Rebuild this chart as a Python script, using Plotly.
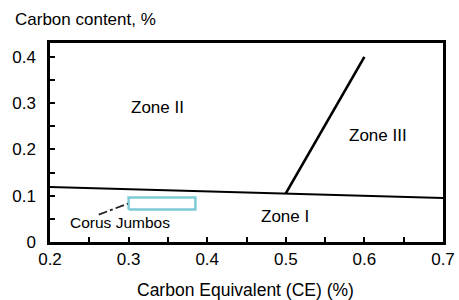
import plotly.graph_objects as go

# Data
boundary_x = [0.2, 0.7]
boundary_y = [0.119, 0.095]
zone3_x = [0.5, 0.6]
zone3_y = [0.105, 0.40]
corus_rect_x = [0.3, 0.385, 0.385, 0.3, 0.3]
corus_rect_y = [0.070, 0.070, 0.096, 0.096, 0.070]
leader_x = [0.262, 0.299]
leader_y = [0.059, 0.083]
zone_labels = ["Zone II", "Zone III", "Zone I", "Corus Jumbos"]
zone_label_x = [0.337, 0.617, 0.499, 0.289]
zone_label_y = [0.29, 0.231, 0.056, 0.042]
x_ticks = [0.2, 0.3, 0.4, 0.5, 0.6, 0.7]
y_ticks = [0, 0.1, 0.2, 0.3, 0.4]

FAM = "Liberation Sans, Arial, sans-serif"
font = dict(family=FAM, size=16, color="black")

fig = go.Figure()
fig.add_trace(go.Scatter(x=boundary_x, y=boundary_y, mode="lines",
                         line=dict(color="black", width=2)))
fig.add_trace(go.Scatter(x=zone3_x, y=zone3_y, mode="lines",
                         line=dict(color="black", width=2.6)))
fig.add_trace(go.Scatter(x=corus_rect_x, y=corus_rect_y, mode="lines",
                         line=dict(color="#7ecad6", width=2.5)))
fig.add_trace(go.Scatter(x=leader_x, y=leader_y, mode="lines",
                         line=dict(color="#222222", width=1.8, dash="dashdot")))

for t, x, y in zip(zone_labels, zone_label_x, zone_label_y):
    fig.add_annotation(x=x, y=y, text=t, showarrow=False,
                       font=dict(family=FAM, size=17 if t != "Corus Jumbos" else 15.5, color="black"))

fig.add_annotation(xref="paper", yref="paper", x=-0.095, y=1.116, xanchor="left", yanchor="middle",
                   text="Carbon content, %", showarrow=False, font=dict(family=FAM, size=17, color="black"))
fig.add_annotation(xref="paper", yref="paper", x=0.497, y=-0.24, xanchor="center", yanchor="middle",
                   text="Carbon Equivalent (CE) (%)", showarrow=False, font=dict(family=FAM, size=17.5, color="black"))

axis_common = dict(showline=True, linecolor="black", linewidth=2.5, mirror=True,
                   ticks="inside", ticklen=5, tickwidth=2, tickcolor="black",
                   showgrid=False, zeroline=False, automargin=False,
                   tickfont=dict(family=FAM, size=17, color="black"),
                   minor=dict(ticks="inside", ticklen=5, tickwidth=2, tickcolor="black", dtick=0.05, showgrid=False))

fig.update_xaxes(range=[0.2, 0.7], tickvals=x_ticks, ticktext=[str(v) for v in x_ticks],
                 ticklabelstandoff=0, **axis_common)
fig.update_yaxes(range=[0, 0.43], tickvals=y_ticks, ticktext=["0", "0.1", "0.2", "0.3", "0.4"],
                 ticklabelstandoff=8, **axis_common)

fig.update_layout(width=459, height=300, showlegend=False,
                  margin=dict(l=50, r=16, t=43, b=58),
                  plot_bgcolor="white", paper_bgcolor="white", font=font)

fig.write_html("out.html", config={"displayModeBar": False},
               post_script="document.body.style.margin='0';document.body.style.overflow='hidden';")
